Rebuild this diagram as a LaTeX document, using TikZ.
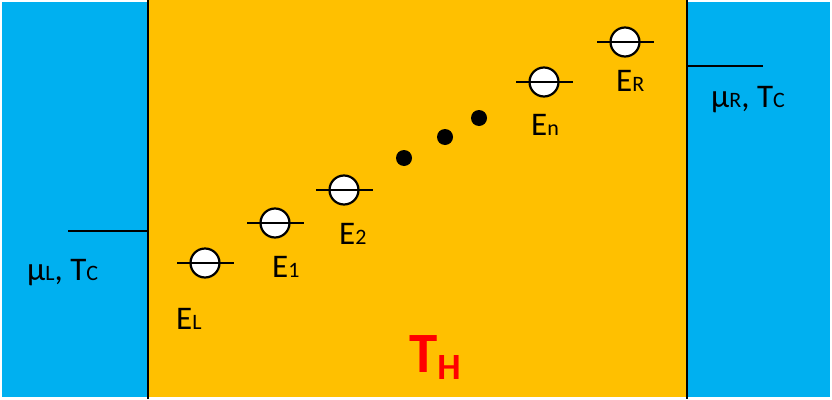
\documentclass[tikz,border=0pt]{standalone}
\usepackage{fontspec}
\setmainfont{Carlito}
\definecolor{bluereg}{RGB}{0,176,240}
\definecolor{orangereg}{RGB}{255,192,0}
\definecolor{redth}{RGB}{255,0,0}
\newcommand{\biglbl}[2]{{\fontsize{33}{33}\selectfont #1}{\fontsize{22}{22}\selectfont #2}}
\begin{document}
\begin{tikzpicture}[x=1pt,y=-1pt,
  lvl/.style={circle,draw=black,line width=2.2pt,fill=white,minimum size=29pt,inner sep=0pt},
  lvlline/.style={draw=black,line width=2pt},
  dotnode/.style={circle,fill=black,minimum size=16pt,inner sep=0pt},
  txt/.style={anchor=base west,inner sep=0pt,text=black},
  wall/.style={draw=black,line width=2pt}]
\useasboundingbox (0,0) rectangle (832,399);
\fill[white] (0,0) rectangle (832,399);
\fill[bluereg] (2,2) rectangle (148,397);
\fill[bluereg] (687,2) rectangle (830,397);
\fill[orangereg] (148,0) rectangle (687,397);
\coordinate (wlt) at (148,0);
\coordinate (wlb) at (148,399);
\coordinate (wrt) at (687,0);
\coordinate (wrb) at (687,399);
\draw[wall] (wlt) -- (wlb);
\draw[wall] (wrt) -- (wrb);
% chemical potentials
\coordinate (muLa) at (68,231);
\coordinate (muLb) at (148,231);
\coordinate (muRa) at (687,66);
\coordinate (muRb) at (763,66);
\draw[lvlline] (muLa) -- (muLb);
\draw[lvlline] (muRa) -- (muRb);
\node[txt] (muL) at (27,280) {\biglbl{μ}{L}\biglbl{, T}{C}};
\node[txt] (muR) at (711,107) {\biglbl{μ}{R}\biglbl{, T}{C}};
% levels
\node[lvl] (eL) at (205,263) {};
\node[lvl] (e1) at (275,223) {};
\node[lvl] (e2) at (344,190) {};
\node[lvl] (en) at (544,82) {};
\node[lvl] (eR) at (625,42) {};
\foreach \n in {eL,e1,e2,en,eR}{
  \draw[lvlline] ([xshift=-28pt]\n.center) -- ([xshift=29pt]\n.center);
}
\node[txt] (tL) at (176,329) {\biglbl{E}{L}};
\node[txt] (t1) at (272,277) {\biglbl{E}{1}};
\node[txt] (t2) at (339,244) {\biglbl{E}{2}};
\node[txt] (tn) at (531,135) {\biglbl{E}{n}};
\node[txt] (tR) at (616,91) {\biglbl{E}{R}};
% dots
\node[dotnode] (d1) at (404,158) {};
\node[dotnode] (d2) at (445,137) {};
\node[dotnode] (d3) at (479,118) {};
% T_H
\node[txt,text=redth] (TH) at (409,372) {{\fontsize{57}{57}\selectfont\bfseries T}\raisebox{-7pt}{\fontsize{37}{37}\selectfont\bfseries H}};
\end{tikzpicture}
\end{document}
